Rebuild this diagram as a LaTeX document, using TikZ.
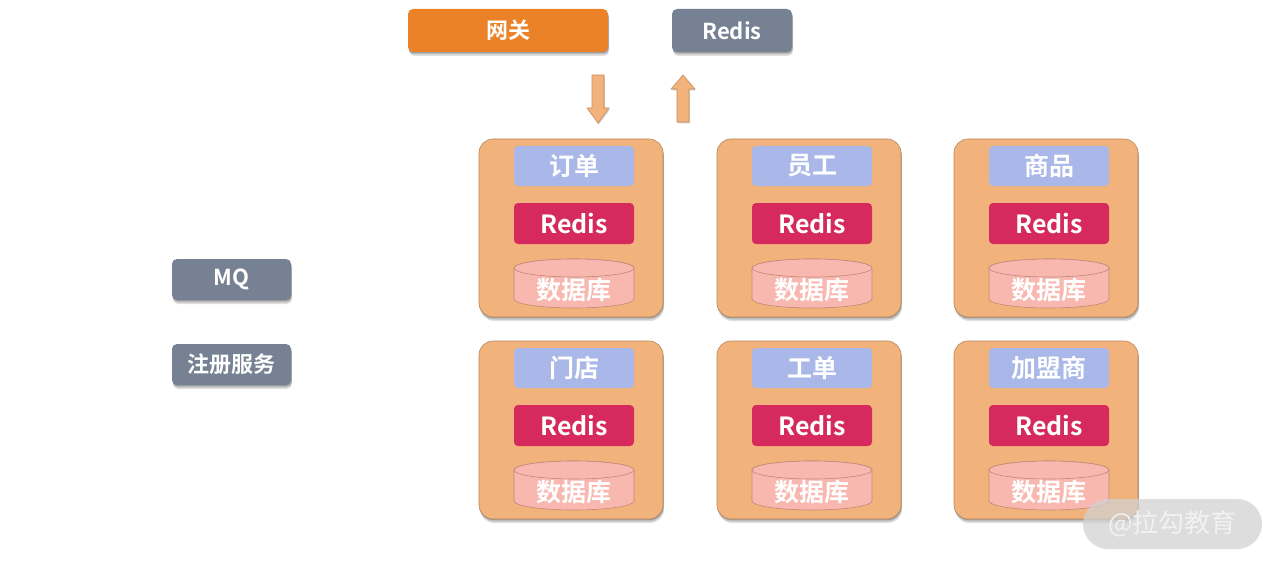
\documentclass[tikz,border=0pt]{standalone}
\usepackage{fontspec}
\setmainfont{Noto Sans CJK SC}[BoldFont=* Bold]
\usetikzlibrary{shadows}
\definecolor{gw}{HTML}{EB8228}
\definecolor{gr}{HTML}{768294}
\definecolor{ct}{HTML}{F2B27B}
\definecolor{ctb}{HTML}{B8875C}
\definecolor{lb}{HTML}{A9B8E8}
\definecolor{rd}{HTML}{D62A5E}
\definecolor{db}{HTML}{F8B8B0}
\definecolor{dbb}{HTML}{C08878}
\definecolor{arf}{HTML}{F2B27B}
\definecolor{arb}{HTML}{C98F5E}
\tikzset{
  shad/.style={drop shadow={shadow xshift=1pt, shadow yshift=-4pt, opacity=0.12, fill=black},
               drop shadow={shadow xshift=0.8pt, shadow yshift=-2.5pt, opacity=0.15, fill=black},
               drop shadow={shadow xshift=0.5pt, shadow yshift=-1.2pt, opacity=0.18, fill=black}},
  topbox/.style={rectangle, rounded corners=5pt, minimum height=43pt, text=white, font=\bfseries\fontsize{22}{24}\selectfont, shad},
  sidebox/.style={rectangle, rounded corners=5pt, fill=gr, minimum width=119pt, minimum height=41pt, text=white, font=\bfseries\fontsize{22}{24}\selectfont, shad},
  cont/.style={rectangle, rounded corners=14pt, fill=ct, draw=ctb, line width=0.6pt, minimum width=184pt, minimum height=178pt, shad},
  lbl/.style={rectangle, rounded corners=4pt, fill=lb, minimum width=120pt, minimum height=40pt, text=white, font=\bfseries\fontsize{25}{27}\selectfont},
  rds/.style={rectangle, rounded corners=4pt, fill=rd, minimum width=120pt, minimum height=41pt, text=white, font=\bfseries\fontsize{25}{27}\selectfont},
  dbs/.style={fill=db, draw=dbb, line width=0.6pt},
  dbt/.style={text=white, font=\bfseries\fontsize{25}{27}\selectfont},
  arr/.style={fill=arf, draw=arb, line width=0.6pt, drop shadow={shadow xshift=0.8pt, shadow yshift=-1.5pt, opacity=0.2, fill=black}},
}
\newcommand\svc[4]{%
  \node[cont] (#1) at ({#2+92},{#3+89}) {};
  \node[lbl] (#1-l) at ({#2+95},{#3+27}) {#4};
  \node[rds] (#1-r) at ({#2+95},{#3+84.5}) {Redis};
  \path[dbs] ({#2+35},{#3+129}) -- ({#2+35},{#3+160})
     arc[start angle=180, end angle=360, x radius=60pt, y radius=9pt]
     -- ({#2+155},{#3+129})
     arc[start angle=0, end angle=180, x radius=60pt, y radius=9pt] -- cycle;
  \draw[dbs] ({#2+95},{#3+129}) ellipse[x radius=60pt, y radius=9pt];
  \node[dbt] (#1-d) at ({#2+95},{#3+151}) {数据库};
}
\begin{document}
\begin{tikzpicture}[x=1pt,y=-1pt]
\useasboundingbox (0,0) rectangle (1280,567);
\node[topbox, fill=gw, minimum width=200pt] (gate) at (508,30.5) {网关};
\node[topbox, fill=gr, minimum width=120pt] (redis) at (732,30.5) {Redis};
% arrows
\path[arr] (592,75) -- (604,75) -- (604,108) -- (609,108) -- (598,123) -- (587,108) -- (592,108) -- cycle;
\path[arr] (683,75) -- (695,89) -- (689,89) -- (689,122) -- (677,122) -- (677,89) -- (671,89) -- cycle;
\node[sidebox] (mq) at (231.5,279.5) {MQ};
\node[sidebox] (reg) at (231.5,364.5) {注册服务};
\svc{order}{479}{139}{订单}
\svc{staff}{717}{139}{员工}
\svc{goods}{954}{139}{商品}
\svc{store}{479}{341}{门店}
\svc{ticket}{717}{341}{工单}
\svc{fran}{954}{341}{加盟商}
\node[rectangle, rounded corners=25pt, fill=black!18, fill opacity=0.75, text opacity=1, text=white!95!black, minimum width=179pt, minimum height=50pt, font=\fontsize{26}{28}\selectfont] (wm) at (1172.5,524) {@拉勾教育};
\end{tikzpicture}
\end{document}
